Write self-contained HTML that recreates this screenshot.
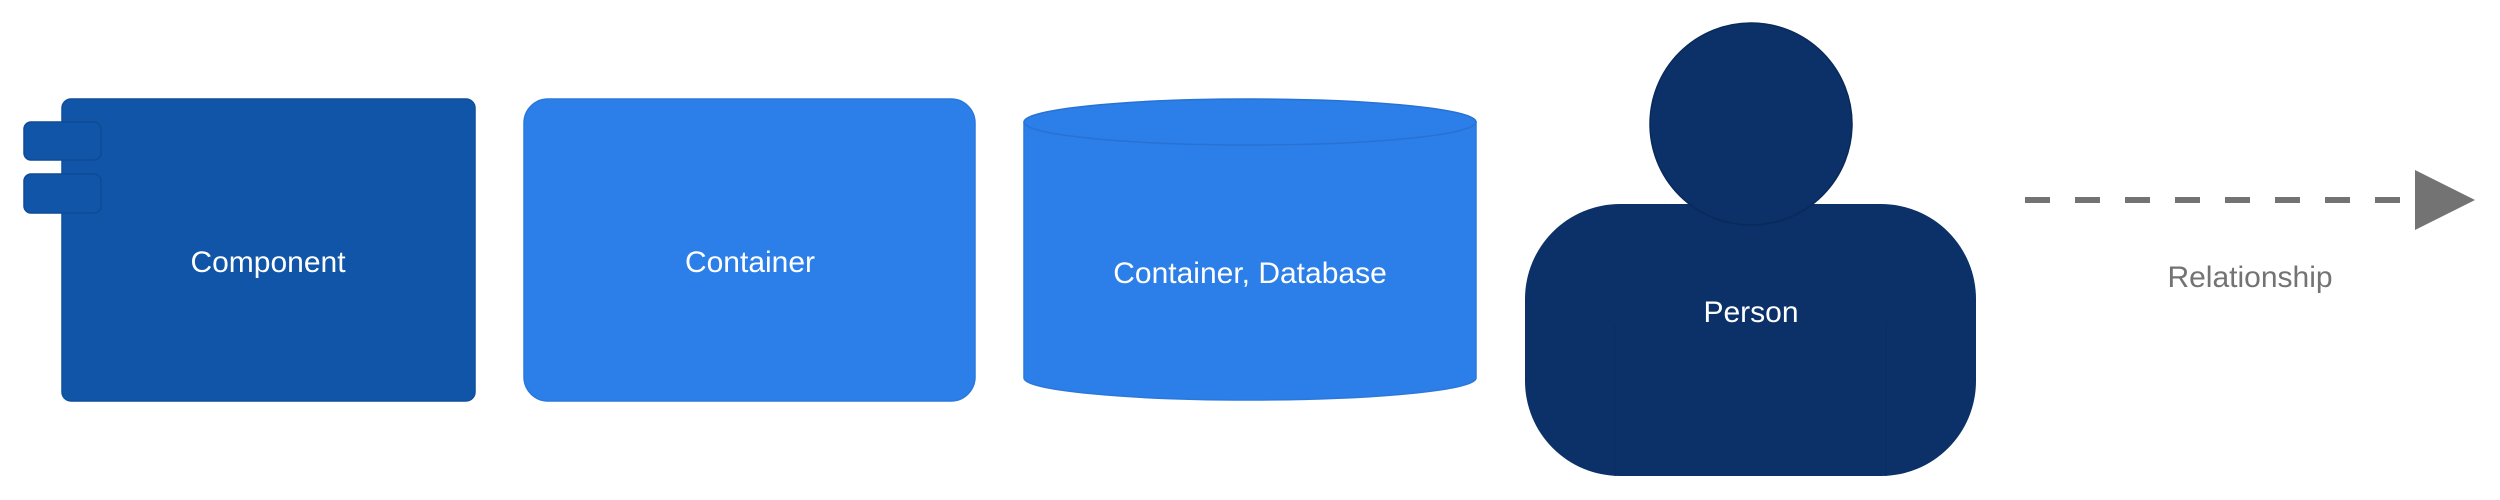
<!DOCTYPE html>
<html><head><meta charset="utf-8"><style>
html,body{margin:0;padding:0;background:#fff;width:2500px;height:500px;overflow:hidden}
svg text{font-family:"Liberation Sans",sans-serif;font-size:30px}
</style></head><body>
<svg width="2500" height="500" viewBox="0 0 2500 500" xmlns="http://www.w3.org/2000/svg">
<rect x="62" y="99" width="413" height="302" rx="9" fill="#1155a8" stroke="#0f4f9c" stroke-width="1.5"/>
<rect x="24" y="122" width="77" height="38" rx="7" fill="#1155a8" stroke="#0f4a94" stroke-width="1.5"/>
<rect x="24" y="174" width="77" height="39" rx="7" fill="#1155a8" stroke="#0f4a94" stroke-width="1.5"/>
<text x="268" y="272" fill="#fff" text-anchor="middle">Component</text>
<rect x="524" y="99" width="451" height="302" rx="24" fill="#2c7fe8" stroke="#2a78dc" stroke-width="1.5"/>
<text x="750" y="272" fill="#fff" text-anchor="middle">Container</text>
<path d="M1024,122 L1024,378 A226,22 0 0 0 1476,378 L1476,122 Z" fill="#2c7fe8" stroke="#2a78dc" stroke-width="1.5"/>
<ellipse cx="1250" cy="122" rx="226" ry="23" fill="#2c7fe8" stroke="#2772d4" stroke-width="1.5"/>
<text x="1250" y="283" fill="#fff" text-anchor="middle">Container, Database</text>
<rect x="1525" y="204" width="451" height="272" rx="95" fill="#0b3168"/>
<line x1="1615" y1="325" x2="1615" y2="476" stroke="#0a2d60" stroke-width="1"/>
<line x1="1886" y1="325" x2="1886" y2="476" stroke="#0a2d60" stroke-width="1"/>
<circle cx="1751" cy="124" r="101" fill="#0b3168" stroke="#092a5a" stroke-width="1.5"/>
<text x="1751" y="322" fill="#fff" text-anchor="middle">Person</text>
<line x1="2025" y1="200" x2="2418" y2="200" stroke="#737373" stroke-width="6" stroke-dasharray="25,25"/>
<polygon points="2415,170 2475,200 2415,230" fill="#737373"/>
<text x="2250" y="287" fill="#737373" text-anchor="middle">Relationship</text>
</svg>
</body></html>
